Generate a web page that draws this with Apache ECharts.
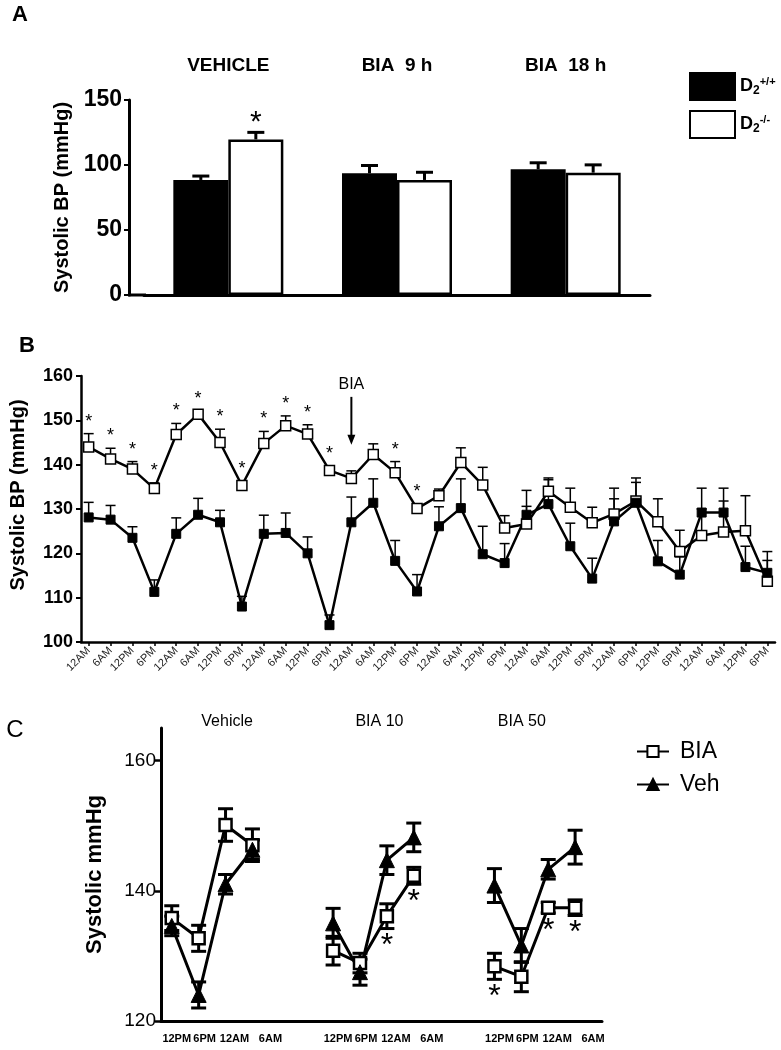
<!DOCTYPE html>
<html>
<head>
<meta charset="utf-8">
<script src="https://cdn.jsdelivr.net/npm/echarts@6/dist/echarts.min.js"></script>
<style>
html, body { margin: 0; padding: 0; background: #fff; }
#chart { width: 781px; height: 1050px; }
</style>
</head>
<body>
<div id="chart"></div>
<script>
var FONT = "'Liberation Sans', Arial, sans-serif";

// ---- panel A : bars
var groupsA = ['VEHICLE', 'BIA  9 h', 'BIA  18 h'];
var wtA = [88.5, 93.6, 96.7];
var wtErrA = [3, 6, 5];
var koA = [119.7, 88.5, 94.1];
var koErrA = [5.4, 5.9, 6];
var koSigA = [1, 0, 0];

// ---- panel B : time course
var timeB = ['12AM', '6AM', '12PM', '6PM', '12AM', '6AM', '12PM', '6PM',
	'12AM', '6AM', '12PM', '6PM', '12AM', '6AM', '12PM', '6PM',
	'12AM', '6AM', '12PM', '6PM', '12AM', '6AM', '12PM', '6PM',
	'12AM', '6PM', '12PM', '6PM', '12AM', '6AM', '12PM', '6PM'];
var koB = [144.0, 141.3, 139.0, 134.6, 146.8, 151.4, 145.0, 135.3,
	144.8, 148.8, 146.9, 138.7, 136.9, 142.3, 138.2, 130.1,
	133.0, 140.5, 135.4, 125.7, 126.6, 134.0, 130.4, 126.9,
	128.9, 131.8, 127.1, 120.4, 124.0, 124.8, 125.1, 113.7];
var koErrB = [3.0, 2.4, 1.7, 1.3, 2.5, 0.8, 3.0, 0.9,
	2.7, 2.2, 2.1, 0.9, 1.7, 2.4, 2.5, 1.0,
	1.5, 3.3, 4.0, 2.8, 4.0, 3.0, 4.3, 3.5,
	3.4, 4.2, 5.2, 4.8, 6.0, 7.0, 7.9, 4.7];
var wtB = [128.1, 127.6, 123.5, 111.3, 124.4, 128.7, 127.0, 108.0,
	124.4, 124.6, 120.0, 103.8, 127.0, 131.4, 118.3, 111.4,
	126.1, 130.2, 119.8, 117.8, 128.7, 131.1, 121.6, 114.3,
	127.2, 131.4, 118.2, 115.2, 129.2, 129.2, 116.9, 115.6];
var wtErrB = [3.4, 3.2, 2.5, 2.7, 3.6, 3.7, 2.7, 2.3,
	4.2, 4.5, 3.7, 2.3, 5.7, 5.4, 4.6, 3.8,
	4.4, 6.6, 6.3, 4.4, 5.5, 5.5, 5.2, 4.6,
	7.5, 5.6, 4.7, 4.0, 5.5, 5.5, 4.7, 4.8];
var koSigB = [0, 1, 2, 3, 4, 5, 6, 7, 8, 9, 10, 11, 14, 15];
var biaStartB = 12;

// ---- panel C : dose groups
var groupsC = ['Vehicle', 'BIA 10', 'BIA 50'];
var timesC = ['12PM', '6PM', '12AM', '6AM'];
var biaC = [[135.8, 132.7, 150.1, 147.0], [130.8, 128.9, 136.1, 142.3], [128.4, 126.8, 137.4, 137.4]];
var biaErrC = [[1.9, 2.0, 2.5, 2.5], [2.2, 1.5, 1.9, 1.3], [2.0, 2.3, 0.8, 1.2]];
var vehC = [[134.6, 124.0, 141.0, 146.3], [135.0, 127.5, 144.7, 148.2], [140.8, 131.6, 143.3, 146.7]];
var vehErrC = [[1.5, 2.0, 1.5, 1.5], [2.3, 2.0, 2.2, 2.2], [2.6, 2.6, 1.5, 2.6]];
var biaSigC = [[0, 0, 0, 0], [0, 0, 1, 1], [1, 0, 1, 1]];

var SLOT = 6; // slots per group in panel C (4 times + gap)

function errRows(vals, errs, sig) {
	return vals.map(function(v, i) {
		return [i, v, v - errs[i], v + errs[i], sig ? sig[i] : 0];
	});
}

function errorBars(o) {
	return function(params, api) {
		var x = api.value(0), m = api.value(1);
		var pt = api.coord([x, api.value(3)]);
		var pb = api.coord([x, o.both ? api.value(2) : m]);
		var cx = pt[0] + (o.dx || 0);
		var st = { stroke: '#000', lineWidth: o.lw };
		var kids = [
			{ type: 'line', shape: { x1: cx, y1: pt[1], x2: cx, y2: pb[1] }, style: st },
			{ type: 'line', shape: { x1: cx - o.cap / 2, y1: pt[1], x2: cx + o.cap / 2, y2: pt[1] }, style: st }
		];
		if (o.both) {
			kids.push({ type: 'line', shape: { x1: cx - o.cap / 2, y1: pb[1], x2: cx + o.cap / 2, y2: pb[1] }, style: st });
		}
		if (api.value(4)) {
			kids.push({
				type: 'text',
				x: cx,
				y: o.starBelow ? pb[1] + o.starGap : pt[1] - o.starGap,
				style: {
					text: '*', fontSize: o.starSize, fontFamily: FONT, fontWeight: o.starWeight || 'normal',
					fill: '#000', align: 'center', verticalAlign: 'middle'
				}
			});
		}
		return { type: 'group', children: kids };
	};
}

// panel C rows: x = slot index
function cLine(vals) {
	var out = [];
	vals.forEach(function(g, gi) {
		g.forEach(function(v, ti) { out.push([gi * SLOT + ti, v]); });
		out.push([gi * SLOT + 4, '-']);
	});
	return out;
}
function cErr(vals, errs, sig) {
	var out = [];
	vals.forEach(function(g, gi) {
		g.forEach(function(v, ti) {
			out.push([gi * SLOT + ti, v, v - errs[gi][ti], v + errs[gi][ti], sig ? sig[gi][ti] : 0]);
		});
	});
	return out;
}
var slotsC = [];
groupsC.forEach(function(g, gi) {
	timesC.forEach(function(t, ti) { slotsC.push(gi * SLOT + ti); });
});
var idxB = timeB.map(function(t, i) { return i; });

var BAR_W = 55;
var GRID_A_LEFT = 144, Y_A_OFFSET = 15;
var axisA = { lineStyle: { color: '#000', width: 3 } };
var tickLbl = { fontSize: 11, fontWeight: 'bold', color: '#000' };

var option = {
	animation: false,
	backgroundColor: '#fff',
	textStyle: { fontFamily: FONT, color: '#000' },
	grid: [
		{ left: GRID_A_LEFT, top: 100, width: 506, height: 195 },
		{ left: 79, top: 376, width: 696, height: 266 },
		{ left: 161, top: 728, width: 441, height: 293 }
	],
	legend: [{
		data: ['D2+/+', 'D2-/-'],
		orient: 'vertical',
		left: 684,
		top: 67,
		icon: 'rect',
		itemWidth: 45,
		itemHeight: 27,
		itemGap: 9,
		formatter: function(name) {
			return '{b|D}{s|2}{p|' + name.slice(2) + '}';
		},
		textStyle: {
			rich: {
				b: { fontSize: 18, fontWeight: 'bold', fontFamily: FONT, color: '#000' },
				s: { fontSize: 12, fontWeight: 'bold', fontFamily: FONT, color: '#000', padding: [9, 0, 0, 0] },
				p: { fontSize: 11, fontWeight: 'bold', fontFamily: FONT, color: '#000', padding: [0, 0, 9, 0] }
			}
		}
	}, {
		data: ['BIA', 'Veh'],
		orient: 'vertical',
		left: 631,
		top: 735,
		itemWidth: 32,
		itemHeight: 14,
		itemGap: 10,
		textStyle: { fontSize: 23, fontFamily: FONT, color: '#000', padding: [0, 0, 0, 6] }
	}],
	xAxis: [{
		gridIndex: 0, type: 'category', data: groupsA,
		axisLine: axisA, axisTick: { show: false }, axisLabel: { show: false }
	}, {
		gridIndex: 0, type: 'category', data: groupsA, position: 'top',
		axisLine: { show: false }, axisTick: { show: false },
		axisLabel: { fontSize: 19, fontWeight: 'bold', color: '#000', margin: 25 }
	}, {
		gridIndex: 1, type: 'value', min: -0.35, max: 31.35,
		axisLine: { onZero: false, lineStyle: { color: '#000', width: 2.5 } },
		axisTick: { customValues: idxB, length: 4, lineStyle: { color: '#000', width: 1.5 } },
		axisLabel: {
			customValues: idxB, rotate: 45, fontSize: 11, color: '#222', margin: 7,
			formatter: function(v) { return timeB[v]; }
		},
		splitLine: { show: false }
	}, {
		gridIndex: 2, type: 'value', min: -0.4, max: 16,
		axisLine: { onZero: false, lineStyle: { color: '#000', width: 3 } },
		axisTick: { show: false },
		axisLabel: {
			customValues: slotsC, margin: 12,
			formatter: function(v) { return '{t' + (v % SLOT) + '|' + timesC[v % SLOT] + '}'; },
			rich: {
				t0: Object.assign({ padding: [0, 0, 0, 10] }, tickLbl),
				t1: Object.assign({ padding: [0, 0, 0, 12] }, tickLbl),
				t2: Object.assign({ padding: [0, 0, 0, 18] }, tickLbl),
				t3: Object.assign({ padding: [0, 0, 0, 36] }, tickLbl)
			}
		},
		splitLine: { show: false }
	}],
	yAxis: [{
		gridIndex: 0, type: 'value', min: 0, max: 150, interval: 50, offset: Y_A_OFFSET,
		name: 'Systolic BP (mmHg)', nameLocation: 'middle', nameGap: 48,
		nameTextStyle: { fontSize: 20, fontWeight: 'bold', color: '#000' },
		axisLine: { show: true, onZero: false, lineStyle: { color: '#000', width: 3 } },
		axisTick: { show: true, length: 5, lineStyle: { color: '#000', width: 2 } },
		axisLabel: { fontSize: 23, fontWeight: 'bold', color: '#000', margin: 7 },
		splitLine: { show: false }
	}, {
		gridIndex: 1, type: 'value', min: 100, max: 160, interval: 10,
		name: 'Systolic BP (mmHg)', nameLocation: 'middle', nameGap: 53,
		nameTextStyle: { fontSize: 20, fontWeight: 'bold', color: '#000', padding: [0, 0, 0, 28] },
		axisLine: { show: true, onZero: false, lineStyle: { color: '#000', width: 2.5 } },
		axisTick: { show: true, length: 5, lineStyle: { color: '#000', width: 2 } },
		axisLabel: { fontSize: 18, fontWeight: 'bold', color: '#000', margin: 8 },
		splitLine: { show: false }
	}, {
		gridIndex: 2, type: 'value', min: 120, max: 165, interval: 20,
		name: 'Systolic mmHg', nameLocation: 'middle', nameGap: 55,
		nameTextStyle: { fontSize: 22, fontWeight: 'bold', color: '#000' },
		axisLine: { show: true, onZero: false, lineStyle: { color: '#000', width: 3 } },
		axisTick: { show: true, customValues: [120, 140, 160], length: 6, lineStyle: { color: '#000', width: 2.5 } },
		axisLabel: { customValues: [120, 140, 160], fontSize: 19, color: '#000', margin: 5 },
		splitLine: { show: false }
	}],
	series: [{
		name: 'D2+/+', type: 'bar', xAxisIndex: 0, yAxisIndex: 0,
		data: wtA, barWidth: BAR_W, barGap: '0%',
		itemStyle: { color: '#000', borderColor: '#000', borderWidth: 2 }
	}, {
		name: 'D2-/-', type: 'bar', xAxisIndex: 0, yAxisIndex: 0,
		data: koA, barWidth: BAR_W, barGap: '0%',
		itemStyle: { color: '#fff', borderColor: '#000', borderWidth: 2.5 }
	}, {
		type: 'custom', xAxisIndex: 0, yAxisIndex: 0, z: 1,
		data: errRows(wtA, wtErrA),
		encode: { x: 0, y: [1, 2, 3] },
		renderItem: errorBars({ dx: -BAR_W / 2, cap: 17, lw: 3 })
	}, {
		type: 'custom', xAxisIndex: 0, yAxisIndex: 0, z: 1,
		data: errRows(koA, koErrA, koSigA),
		encode: { x: 0, y: [1, 2, 3] },
		renderItem: errorBars({ dx: BAR_W / 2, cap: 17, lw: 3, starGap: 10, starSize: 30 })
	}, {
		name: 'D2-/- time', type: 'line', xAxisIndex: 2, yAxisIndex: 1, z: 4,
		data: koB.map(function(v, i) { return [i, v]; }),
		symbol: 'rect', symbolSize: 10,
		lineStyle: { color: '#000', width: 2.5 },
		itemStyle: { color: '#fff', borderColor: '#000', borderWidth: 1.5 }
	}, {
		name: 'D2+/+ time', type: 'line', xAxisIndex: 2, yAxisIndex: 1, z: 4,
		data: wtB.map(function(v, i) { return [i, v]; }),
		symbol: 'rect', symbolSize: 9,
		lineStyle: { color: '#000', width: 2.5 },
		itemStyle: { color: '#000', borderColor: '#000', borderWidth: 1 }
	}, {
		type: 'custom', xAxisIndex: 2, yAxisIndex: 1, z: 2,
		data: errRows(koB, koErrB, koB.map(function(v, i) { return koSigB.indexOf(i) >= 0 ? 1 : 0; })),
		encode: { x: 0, y: [1, 2, 3] },
		renderItem: errorBars({ cap: 10, lw: 1.5, starGap: 12, starSize: 18 })
	}, {
		type: 'custom', xAxisIndex: 2, yAxisIndex: 1, z: 2,
		data: errRows(wtB, wtErrB),
		encode: { x: 0, y: [1, 2, 3] },
		renderItem: errorBars({ cap: 10, lw: 1.5 })
	}, {
		name: 'BIA', type: 'line', xAxisIndex: 3, yAxisIndex: 2, z: 4,
		data: cLine(biaC),
		symbol: 'rect', symbolSize: 12,
		lineStyle: { color: '#000', width: 3 },
		itemStyle: { color: '#fff', borderColor: '#000', borderWidth: 2.5 }
	}, {
		name: 'Veh', type: 'line', xAxisIndex: 3, yAxisIndex: 2, z: 4,
		data: cLine(vehC),
		symbol: 'triangle', symbolSize: 15,
		lineStyle: { color: '#000', width: 3 },
		itemStyle: { color: '#000', borderColor: '#000', borderWidth: 1 }
	}, {
		type: 'custom', xAxisIndex: 3, yAxisIndex: 2, z: 2,
		data: cErr(biaC, biaErrC, biaSigC),
		encode: { x: 0, y: [1, 2, 3] },
		renderItem: errorBars({ both: true, cap: 15, lw: 3, starBelow: true, starGap: 18, starSize: 32 })
	}, {
		type: 'custom', xAxisIndex: 3, yAxisIndex: 2, z: 2,
		data: cErr(vehC, vehErrC),
		encode: { x: 0, y: [1, 2, 3] },
		renderItem: errorBars({ both: true, cap: 15, lw: 3 })
	}]
};

var chart = echarts.init(document.getElementById('chart'), null, { renderer: 'canvas' });
chart.setOption(option);

// annotations placed from the axes
var a0 = chart.convertToPixel({ gridIndex: 0 }, [0, 0]);
var arrowP = chart.convertToPixel({ gridIndex: 1 }, [biaStartB, koB[biaStartB] + koErrB[biaStartB]]);
var tip = arrowP[1] - 26;
var titleStyle = { fontSize: 16, fontFamily: FONT, fill: '#000', align: 'center', verticalAlign: 'middle' };
var cTitles = groupsC.map(function(g, gi) {
	var p = chart.convertToPixel({ gridIndex: 2 }, [gi * SLOT + 1.5, 165]);
	var shift = [15, 6, -13][gi];
	return { type: 'text', x: p[0] + shift, y: 722, style: Object.assign({ text: g }, titleStyle) };
});

chart.setOption({
	graphic: [
		{ type: 'text', x: 20, y: 15, style: { text: 'A', fontSize: 22, fontWeight: 'bold', fontFamily: FONT, fill: '#000', align: 'center', verticalAlign: 'middle' } },
		{ type: 'text', x: 27, y: 346, style: { text: 'B', fontSize: 22, fontWeight: 'bold', fontFamily: FONT, fill: '#000', align: 'center', verticalAlign: 'middle' } },
		{ type: 'text', x: 15, y: 730, style: { text: 'C', fontSize: 24, fontFamily: FONT, fill: '#000', align: 'center', verticalAlign: 'middle' } },
		// join the offset y axis of panel A to its x axis
		{ type: 'line', shape: { x1: GRID_A_LEFT - Y_A_OFFSET - 1, y1: a0[1], x2: GRID_A_LEFT + 2, y2: a0[1] }, style: { stroke: '#000', lineWidth: 3 } },
		{ type: 'text', x: arrowP[0], y: tip - 60, style: Object.assign({ text: 'BIA', fontSize: 17 }, titleStyle) },
		{ type: 'line', shape: { x1: arrowP[0], y1: tip - 48, x2: arrowP[0], y2: tip - 8 }, style: { stroke: '#000', lineWidth: 2 } },
		{ type: 'polygon', shape: { points: [[arrowP[0] - 4, tip - 10], [arrowP[0] + 4, tip - 10], [arrowP[0], tip]] }, style: { fill: '#000' } }
	].concat(cTitles)
});
</script>
</body>
</html>
